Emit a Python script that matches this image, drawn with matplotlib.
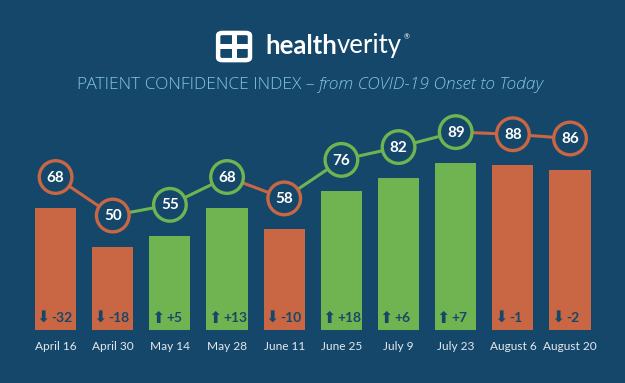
import matplotlib.pyplot as plt
from matplotlib.patches import FancyBboxPatch, Rectangle

dates = ["April 16", "April 30", "May 14", "May 28", "June 11",
         "June 25", "July 9", "July 23", "August 6", "August 20"]
index = [68, 50, 55, 68, 58, 76, 82, 89, 88, 86]
change = [-32, -18, 5, 13, -10, 18, 6, 7, -1, -2]

bg = "#15476a"
orange = "#c96744"
green = "#70b452"

colors = [green if c > 0 else orange for c in change]

fig = plt.figure(figsize=(6.25, 3.83), dpi=100, facecolor=bg)
ax = fig.add_axes([0.0432, 0.1384, 0.9146, 0.6005])
ax.set_facecolor(bg)
x = list(range(len(dates)))

ax.bar(x, index, width=0.72, color=colors, bottom=0, zorder=1)

# circles sit a bit above the bar tops
off = 14.5
cy = [v + off for v in index]
for i in range(1, len(x)):
    ax.plot(x[i - 1:i + 1], cy[i - 1:i + 1], color=colors[i], lw=2.2,
            zorder=2, solid_capstyle="butt")
ax.scatter(x, cy, s=23.5 ** 2, facecolor=bg, edgecolor=colors, linewidths=2.4,
           zorder=3)
for xi, yi, v in zip(x, cy, index):
    ax.text(xi, yi - 0.3, str(v), ha="center", va="center", color="white",
            fontsize=11, fontweight="bold", family=["Lato", "DejaVu Sans"],
            zorder=4)

for xi, c in zip(x, change):
    arrow = "\u2b06" if c > 0 else "\u2b07"
    lab = f"+{c}" if c > 0 else f"-{abs(c)}"
    ax.text(xi - 0.1, 16.6, arrow, ha="right", va="center", color=bg,
            fontsize=11.5, family=["DejaVu Sans"], zorder=4)
    ax.text(xi - 0.07, 16.8, lab, ha="left", va="center", color=bg,
            fontsize=10, fontweight="bold", family=["Lato", "DejaVu Sans"],
            zorder=4)

ax.set_xlim(-0.5, 9.5)
ax.set_ylim(11, 118.5)
ax.set_xticks(x)
ax.set_xticklabels(dates, color="#e3e9ee", fontsize=8.6, family="Lato")
ax.tick_params(axis="x", length=0, pad=8)
ax.set_yticks([])
for s in ax.spines.values():
    s.set_visible(False)

# title
tcol = "#82c6e6"
fig.text(0.51, 0.777, "PATIENT CONFIDENCE INDEX \u2013 ", ha="right",
         va="center", color=tcol, fontsize=12.5, family="Open Sans",
         fontweight="light")
fig.text(0.51, 0.777, "from COVID-19 Onset to Today", ha="left", va="center",
         color=tcol, fontsize=12.5, family="Open Sans", style="italic",
         fontweight="light")

# logo
t1 = fig.text(0.424, 0.88, "health", ha="left", va="center", color="white",
              fontsize=18.5, fontweight="bold", family="Lato")
fig.canvas.draw()
bb = t1.get_window_extent().transformed(fig.transFigure.inverted())
t2 = fig.text(bb.x1, 0.88, "verity", ha="left", va="center", color="white",
              fontsize=18.5, family="Lato")
fig.canvas.draw()
bb2 = t2.get_window_extent().transformed(fig.transFigure.inverted())
fig.text(bb2.x1 + 0.002, 0.905, "\u00ae", ha="left", va="center", color="white",
         fontsize=5, family="Lato")
icon = FancyBboxPatch((0.356, 0.85), 0.037, 0.057, boxstyle="round,pad=0.007",
                      transform=fig.transFigure, facecolor="none",
                      edgecolor="white", lw=3.2)
fig.add_artist(icon)
fig.add_artist(Rectangle((0.3705, 0.838), 0.009, 0.081, transform=fig.transFigure,
                         facecolor="white", edgecolor="none"))
fig.add_artist(Rectangle((0.35, 0.871), 0.049, 0.015, transform=fig.transFigure,
                         facecolor="white", edgecolor="none"))

fig.savefig("out.png", dpi=100, facecolor=bg)
